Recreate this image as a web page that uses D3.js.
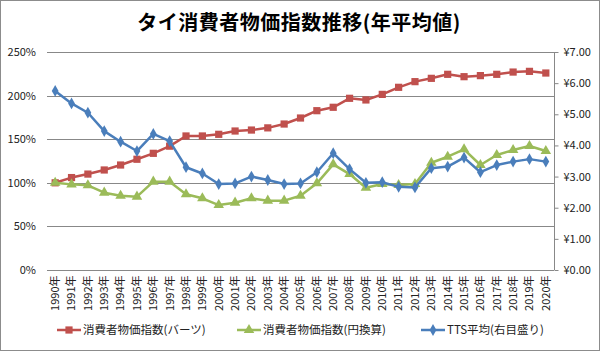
<!DOCTYPE html>
<html>
<head>
<meta charset="utf-8">
<script src="https://cdn.jsdelivr.net/npm/d3@7"></script>
<style>
  body { margin: 0; background: #fff; }
  #chart { width: 600px; height: 351px; }
  text { font-family: "Noto Sans CJK JP", "Noto Sans", sans-serif; }
</style>
</head>
<body>
<div id="chart"></div>
<script>
// data
const years = d3.range(1990, 2021).map(y => `${y}年`);
const cpiBaht = [100, 106, 110, 114.7, 120.4, 127, 133.8, 142, 153.7, 153.7,
  155.6, 159.4, 160.5, 163, 167.4, 174.3, 182.7, 186.6, 196.9, 195,
  201.4, 209.5, 216, 219.8, 224.4, 221.7, 222.9, 224.4, 227, 227.8, 225.9];
const cpiYen = [100, 98.2, 97.1, 88.7, 85.2, 84.1, 101.3, 101.3, 86.8, 82.2,
  74.5, 77.2, 82.2, 79.5, 79.5, 85.2, 99.4, 121.2, 110, 94.4,
  98.6, 97.5, 98.6, 123, 129.9, 138.4, 120.4, 131.9, 137.6, 142.2, 136.5];
const tts = [5.75, 5.35, 5.05, 4.46, 4.12, 3.82, 4.37, 4.14, 3.30, 3.10,
  2.76, 2.78, 3.00, 2.89, 2.76, 2.78, 3.14, 3.75, 3.24, 2.80,
  2.82, 2.67, 2.65, 3.27, 3.32, 3.61, 3.14, 3.37, 3.48, 3.56, 3.48];
const leftTicks = [0, 50, 100, 150, 200, 250];
const rightTicks = [0, 1, 2, 3, 4, 5, 6, 7];

const series = [
  { name: "消費者物価指数(バーツ)", values: cpiBaht, axis: "left", color: "#C0504D", symbol: d3.symbolSquare, size: 52 },
  { name: "消費者物価指数(円換算)", values: cpiYen, axis: "left", color: "#9BBB59", symbol: d3.symbolTriangle, size: 48 },
  { name: "TTS平均(右目盛り)", values: tts, axis: "right", color: "#4A7EBB", symbol: d3.symbolDiamond, size: 40 }
];

const width = 600, height = 351;
const margin = { top: 52, right: 46, bottom: 81, left: 47 };

const svg = d3.select("#chart").append("svg")
  .attr("width", width).attr("height", height)
  .attr("viewBox", `0 0 ${width} ${height}`);

svg.append("rect")
  .attr("x", 0.5).attr("y", 0.5)
  .attr("width", width - 1).attr("height", height - 1)
  .attr("fill", "#fff").attr("stroke", "#8c8c8c");

svg.append("text")
  .attr("x", 299).attr("y", 30)
  .attr("text-anchor", "middle")
  .style("font-size", "20px").style("font-weight", "bold")
  .style("letter-spacing", "0.5px")
  .text("タイ消費者物価指数推移(年平均値)");

const x = d3.scaleBand().domain(years)
  .range([margin.left, width - margin.right]);
const yL = d3.scaleLinear().domain([0, 250])
  .range([height - margin.bottom, margin.top]);
const yR = d3.scaleLinear().domain([0, 7])
  .range([height - margin.bottom, margin.top]);

// gridlines
svg.append("g")
  .selectAll("line")
  .data(leftTicks.slice(1))
  .join("line")
  .attr("x1", margin.left).attr("x2", width - margin.right)
  .attr("y1", d => Math.round(yL(d)) + 0.5).attr("y2", d => Math.round(yL(d)) + 0.5)
  .attr("stroke", "#888").attr("stroke-width", 1);

// left labels
svg.append("g")
  .selectAll("text")
  .data(leftTicks)
  .join("text")
  .attr("x", 36).attr("y", d => yL(d) + 4)
  .attr("text-anchor", "end")
  .style("font-size", "11px").attr("fill", "#222")
  .text(d => `${d}%`);

// bottom axis
const xAxis = svg.append("g")
  .attr("transform", `translate(0,${Math.round(height - margin.bottom) + 0.5})`)
  .call(d3.axisBottom(x).tickSize(0).tickPadding(6));
xAxis.select(".domain").attr("stroke", "#888").attr("d", `M${margin.left},0H${width - margin.right}`);
xAxis.selectAll("text")
  .attr("transform", "rotate(-90)")
  .attr("text-anchor", "end")
  .attr("x", -5).attr("y", 0).attr("dy", "0.35em")
  .style("font-size", "11px").attr("fill", "#222")
  .style("font-family", "\"Noto Sans CJK JP\", sans-serif");

// right axis
const rAxis = svg.append("g")
  .attr("transform", `translate(${width - margin.right + 0.5},0)`)
  .call(d3.axisRight(yR).tickValues(rightTicks).tickSize(4).tickPadding(5)
    .tickFormat(d => `¥${d.toFixed(2)}`));
rAxis.select(".domain").attr("stroke", "#888").attr("d", `M0,${yR(7)}V${yR(0)}`);
rAxis.selectAll(".tick line").attr("stroke", "#888");
rAxis.selectAll("text")
  .style("font-size", "11px").attr("fill", "#222")
  .style("font-family", "\"Noto Sans CJK JP\", sans-serif");

// lines & markers
const cx = i => x(years[i]) + x.bandwidth() / 2;
series.forEach(s => {
  const y = s.axis === "left" ? yL : yR;
  const line = d3.line().x((d, i) => cx(i)).y(d => y(d));
  const g = svg.append("g");
  g.append("path")
    .datum(s.values)
    .attr("d", line)
    .attr("fill", "none")
    .attr("stroke", s.color)
    .attr("stroke-width", 2.5)
    .attr("stroke-linejoin", "round");
  g.selectAll("path.m")
    .data(s.values)
    .join("path")
    .attr("class", "m")
    .attr("transform", (d, i) => `translate(${cx(i)},${y(d)})`)
    .attr("d", d3.symbol(s.symbol, s.size))
    .attr("fill", s.color);
});

// legend
const legendX = [57, 237, 421];
const leg = svg.append("g");
series.forEach((s, i) => {
  const g = leg.append("g").attr("transform", `translate(${legendX[i]},330)`);
  g.append("line").attr("x1", 0).attr("x2", 24)
    .attr("stroke", s.color).attr("stroke-width", 2.5);
  g.append("path").attr("transform", "translate(12,0)")
    .attr("d", d3.symbol(s.symbol, s.size)).attr("fill", s.color);
  g.append("text").attr("x", 26).attr("y", 4)
    .style("font-size", "11.5px").attr("fill", "#222")
    .text(s.name);
});
</script>
</body>
</html>
